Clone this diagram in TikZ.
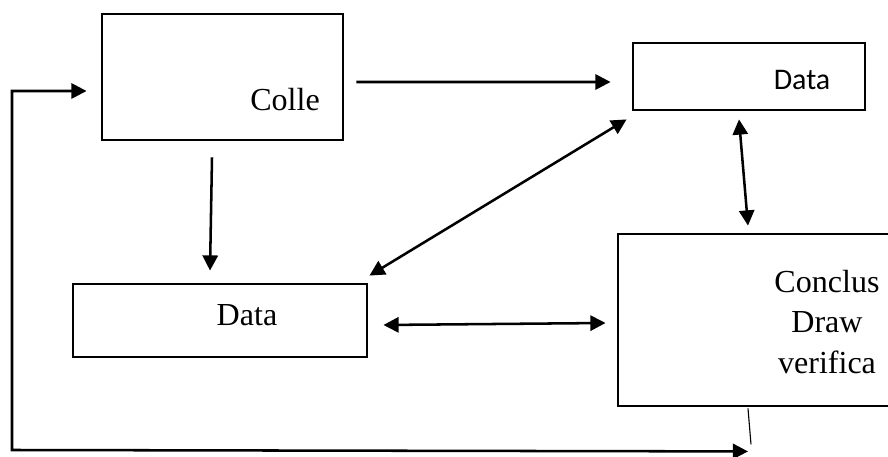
\documentclass[tikz,border=0pt]{standalone}
\usepackage{fontspec}
\setmainfont{Liberation Serif}
\newfontfamily\calibrifont{Carlito}
\usetikzlibrary{calc,arrows.meta}
\tikzset{
  block/.style={draw=black, line width=2pt, inner sep=0pt},
  txt/.style={black, font=\fontsize{22.8}{29.1}\selectfont, align=center, inner sep=0pt},
  arrow/.style={-{Triangle[length=3.8mm,width=3.8mm]}, draw=black, line width=1.8pt},
  twoway/.style={{Triangle[length=3.8mm,width=3.8mm]}-{Triangle[length=3.8mm,width=3.8mm]}, draw=black, line width=1.8pt},
  stub/.style={draw=black, line width=0.8pt}
}

\begin{document}
\begin{tikzpicture}[x=0.025cm, y=-0.025cm]
  \clip (0,0) rectangle (888,457);
  % boxes
  \node[block, minimum width=6.025cm, minimum height=3.15cm] (colle) at (222.5,77) {};
  \node[block, minimum width=5.8cm, minimum height=1.675cm] (datatop) at (749,76.5) {};
  \node[block, minimum width=7.35cm, minimum height=1.825cm] (datamid) at (220,320.5) {};
  \node[block, minimum width=7.05cm, minimum height=4.3cm] (conclus) at (759,320) {};
  % texts
  \node[txt] (collelbl) at (285,100) {Colle};
  \node[txt, font=\calibrifont\fontsize{21.3}{26}\selectfont] (datatoplbl) at (802,80) {Data};
  \node[txt] (datamidlbl) at (247,315) {Data};
  \node[txt] (concluslbl) at (827,322) {Conclus\\Draw\\verifica};
  % connectors
  \draw[arrow] ($(colle.east)+(12,5)$) -- ($(datatop.west)+(-21,5.5)$);
  \draw[arrow] ($(colle.south)+(-10.5,16)$) -- ($(datamid.north)+(-10,-12)$);
  \draw[twoway] ($(datatop.south west)+(-5,8)$) -- ($(datamid.north east)+(1,-7)$);
  \draw[twoway] ($(datatop.south)+(-10,8)$) -- ($(conclus.north)+(-11,-7)$);
  \draw[twoway] ($(datamid.east)+(15,4.5)$) -- ($(conclus.west)+(-11,3)$);
  % feedback loop
  \coordinate (loop) at (12,450);
  \draw[twoway, {Triangle[length=3.8mm,width=3.8mm]}-{Triangle[length=3.8mm,width=3.8mm]}] ($(conclus.south)+(-11,44)$) -- (loop) |- ($(colle.west)+(-14,14)$);
  \draw[stub] ($(conclus.south)+(-11,1)$) -- ++(3,36);
\end{tikzpicture}
\end{document}
